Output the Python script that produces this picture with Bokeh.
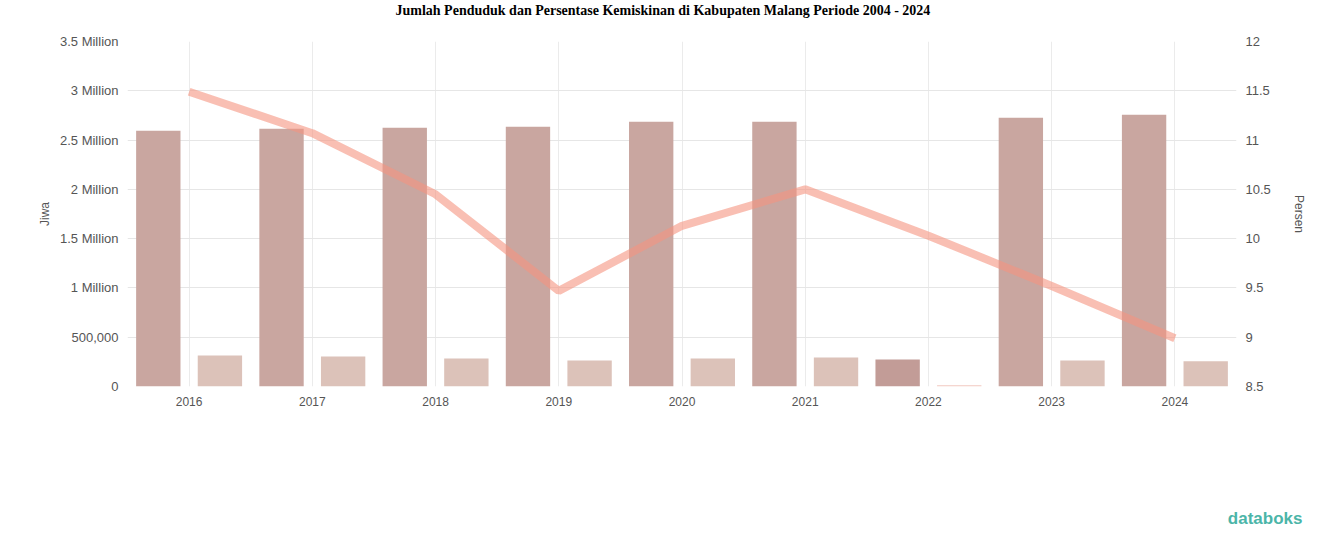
from bokeh.plotting import figure
from bokeh.models import (ColumnDataSource, FactorRange, Range1d, LinearAxis,
                          FixedTicker, Title, CustomJSTickFormatter)
from bokeh.transform import dodge
from bokeh.embed import file_html
from bokeh.resources import INLINE

years = ["2016", "2017", "2018", "2019", "2020", "2021", "2022", "2023", "2024"]
penduduk = [2594000, 2614000, 2625000, 2635000, 2686000, 2686000, 275000, 2726000, 2757000]
penduduk_miskin = [315000, 305000, 285000, 265000, 285000, 295000, 12000, 265000, 255000]
persen_miskin = [11.49, 11.07, 10.45, 9.47, 10.13, 10.50, 10.03, 9.52, 8.99]

left_ticks = [0, 500000, 1000000, 1500000, 2000000, 2500000, 3000000, 3500000]
right_ticks = [8.5, 9, 9.5, 10, 10.5, 11, 11.5, 12]

bar_colors = ["#c9a6a0"] * 9
bar_colors[6] = "#c29c97"
light_colors = ["#dcc2b9"] * 9
light_colors[6] = "#f2c9c0"

src = ColumnDataSource(dict(year=years, pop=penduduk, poor=penduduk_miskin,
                            pct=persen_miskin, c1=bar_colors, c2=light_colors))

p = figure(width=1308, height=531, x_range=FactorRange(*years), title=None,
           y_range=Range1d(0, 3500000), output_backend="svg", toolbar_location=None,
           min_border_left=127, min_border_right=66, min_border_top=0, min_border_bottom=0)

# spacer between frame and title, then the title itself (outermost)
p.add_layout(Title(text=" ", standoff=21, text_font_size="1px"), "above")
p.add_layout(Title(text="Jumlah Penduduk dan Persentase Kemiskinan di Kabupaten Malang Periode 2004 - 2024",
                   align="left", offset=268, standoff=0, text_font="Liberation Serif",
                   text_font_size="14px", text_font_style="bold", text_color="#000000"), "above")

p.extra_y_ranges = {"pct": Range1d(8.5, 12)}

p.vbar(x=dodge("year", -0.25, range=p.x_range), top="pop", width=0.36, source=src,
       fill_color="c1", line_color=None)
p.vbar(x=dodge("year", 0.25, range=p.x_range), top="poor", width=0.36, source=src,
       fill_color="c2", line_color=None)
p.line(x="year", y="pct", source=src, y_range_name="pct", line_width=8,
       line_color="#f59580", line_alpha=0.6)

p.outline_line_color = None
p.xgrid.grid_line_color = "#ebebeb"
p.ygrid.grid_line_color = "#e6e6e6"
p.ygrid.ticker = FixedTicker(ticks=left_ticks)

p.yaxis.ticker = FixedTicker(ticks=left_ticks)
p.yaxis.formatter = CustomJSTickFormatter(code="""
if (tick >= 1000000) { return (tick/1000000).toString() + ' Million'; }
if (tick == 0) { return '0'; }
return tick.toLocaleString('en-US');
""")
p.yaxis.axis_label = "Jiwa"

ra = LinearAxis(y_range_name="pct", ticker=FixedTicker(ticks=right_ticks), axis_label="Persen")
p.add_layout(ra, "right")

for ax in [p.xaxis[0], p.yaxis[0], ra]:
    ax.axis_line_color = None
    ax.major_tick_line_color = None
    ax.minor_tick_line_color = None
    ax.major_label_text_font = "Liberation Sans"
    ax.major_label_text_font_size = "12px"
    ax.major_label_text_color = "#555555"
    ax.axis_label_text_font = "Liberation Sans"
    ax.axis_label_text_font_size = "12px"
    ax.axis_label_text_font_style = "normal"
    ax.axis_label_text_color = "#555555"
    ax.major_label_standoff = 3
p.yaxis.major_label_text_font_size = "13px"
p.xaxis.major_label_standoff = 4
ra.axis_label_standoff = 18

# spacer below the x axis, then the databoks logo (outermost)
p.add_layout(Title(text=" ", standoff=91, text_font_size="1px"), "below")
p.add_layout(Title(text="databoks", align="right", text_font="Liberation Sans",
                   text_font_size="17px", text_color="#4bb5a8", text_font_style="bold",
                   standoff=8, offset=-66), "below")

open("out.html", "w").write(file_html(p, INLINE))
